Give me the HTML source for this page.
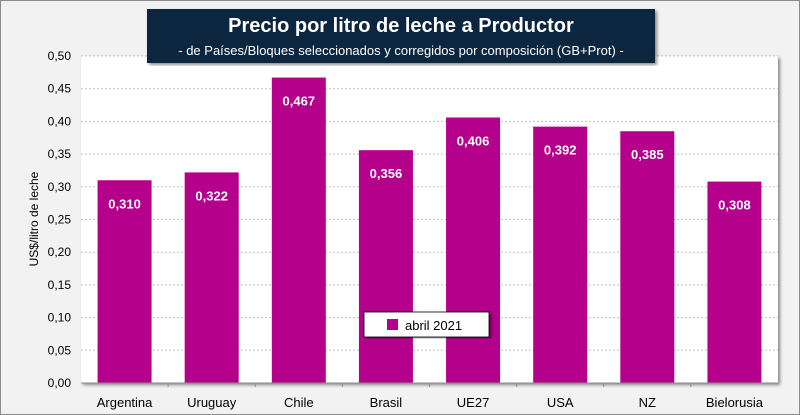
<!DOCTYPE html>
<html><head><meta charset="utf-8"><style>
body{margin:0;background:#fff;}
#wrap{position:relative;width:800px;height:415px;background:#f2f2f2;box-sizing:border-box;border:1px solid #8c8c8c;font-family:"Liberation Sans",sans-serif;overflow:hidden}
svg text{font-family:"Liberation Sans",sans-serif}
</style></head><body>
<div id="wrap">
<svg id="chart" width="800" height="415">
<defs><filter id="sh" x="-5%" y="-5%" width="110%" height="110%"><feDropShadow dx="2" dy="2" stdDeviation="1.5" flood-opacity="0.45"/></filter></defs>
<rect x="80" y="55" width="697" height="327" fill="#fff" filter="url(#sh)"/>
<g id="grid"></g><g id="bars"></g><g id="yticks"></g><g id="xticks"></g>
<text transform="translate(37,218) rotate(-90)" text-anchor="middle" font-size="12" fill="#000">US$/litro de leche</text>
<g>
<rect x="146" y="8" width="508" height="54" fill="#0e2841" filter="url(#sh)"/>
<text x="400" y="31" text-anchor="middle" font-size="20" font-weight="bold" fill="#fff">Precio por litro de leche a Productor</text>
<text x="400" y="54" text-anchor="middle" font-size="13" fill="#fff">-  de Países/Bloques seleccionados y corregidos por composición (GB+Prot) -</text>
</g>
<g>
<rect x="363" y="311" width="125" height="25" fill="#fff" stroke="#000" stroke-width="0.8" filter="url(#sh)"/>
<rect x="386" y="318" width="11" height="11" fill="#b5008c"/>
<text x="404" y="329" font-size="13" fill="#000">abril 2021</text>
</g>
</svg>
</div>
<script>
const categories=["Argentina","Uruguay","Chile","Brasil","UE27","USA","NZ","Bielorusia"];
const values=[0.310,0.322,0.467,0.356,0.406,0.392,0.385,0.308];
const valueLabels=["0,310","0,322","0,467","0,356","0,406","0,392","0,385","0,308"];
const yTicks=[0,0.05,0.10,0.15,0.20,0.25,0.30,0.35,0.40,0.45,0.50];
const NS="http://www.w3.org/2000/svg";
const X0=80,X1=777,Y0=382,Y1=55,YMAX=0.5;
const slot=(X1-X0)/categories.length;
function y(v){return Y0-(v/YMAX)*(Y0-Y1);}
function xc(i){return X0+slot*(i+0.5);}
function mk(t,a,p){const e=document.createElementNS(NS,t);for(const k in a)e.setAttribute(k,a[k]);p.appendChild(e);return e;}
const grid=document.getElementById('grid'),yt=document.getElementById('yticks'),xt=document.getElementById('xticks'),bars=document.getElementById('bars');
yTicks.forEach(v=>{
 if(v>0){const l=mk('line',{x1:X0,x2:X1,y1:y(v),y2:y(v),stroke:'#bfbfbf','stroke-dasharray':'2,2','stroke-width':1},grid);
 
 }
 const t=mk('text',{x:70,y:y(v)+4,'text-anchor':'end','font-size':12,fill:'#000'},yt);
 t.textContent=v.toFixed(2).replace('.',',');
 
 
});
mk('line',{x1:X0,x2:X1,y1:Y0,y2:Y0,stroke:'#8c8c8c'},xt);
categories.forEach((c,i)=>{
 const w=54;
 const r=mk('rect',{x:xc(i)-w/2,y:y(values[i]),width:w,height:Y0-y(values[i]),fill:'#b5008c'},bars);
 
 
 const vl=mk('text',{x:xc(i),y:y(values[i])+28,'text-anchor':'middle','font-size':13,'font-weight':'bold',fill:'#fff'},bars);
 vl.textContent=valueLabels[i];
 
 
 const t=mk('text',{x:xc(i),y:Y0+24,'text-anchor':'middle','font-size':13,fill:'#000'},xt);
 t.textContent=c;
 
 
 if(i>0){mk('line',{x1:X0+slot*i,x2:X0+slot*i,y1:Y0,y2:Y0+4,stroke:'#8c8c8c'},xt);}
});
</script>
</body></html>
